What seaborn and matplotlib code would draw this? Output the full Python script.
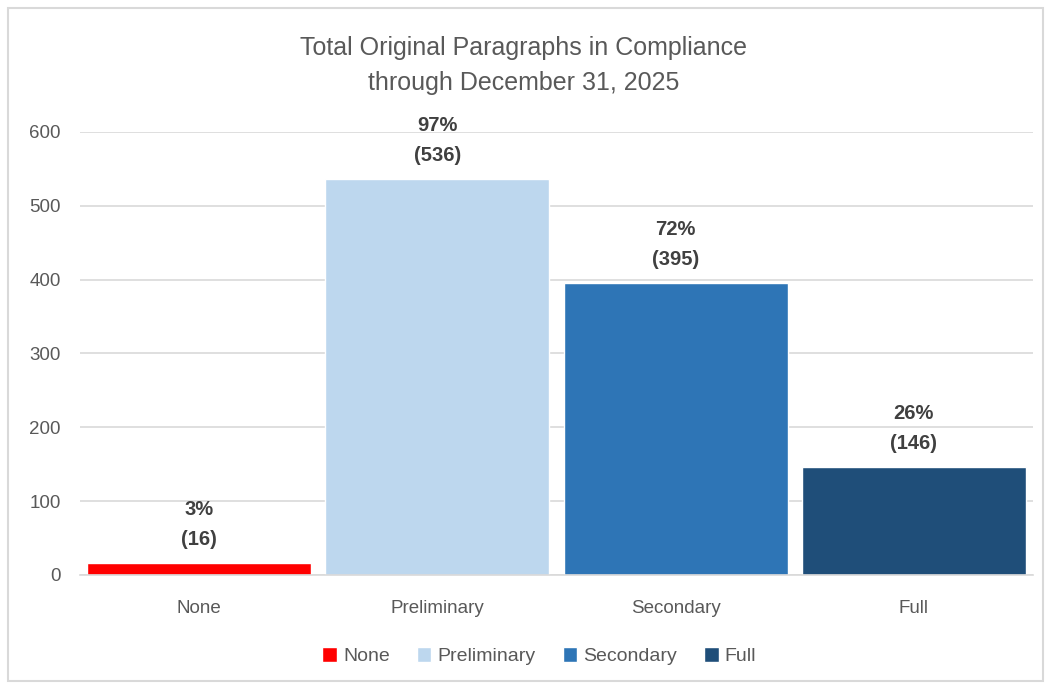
import pandas as pd
import matplotlib
matplotlib.use("Agg")
import matplotlib.pyplot as plt
from matplotlib.patches import Rectangle, Patch
import seaborn as sns

categories = ["None", "Preliminary", "Secondary", "Full"]
counts = [16, 536, 395, 146]
percents = [3, 97, 72, 26]
colors = ["#FF0000", "#BDD7EE", "#2E75B6", "#1F4E79"]
yticks = [0, 100, 200, 300, 400, 500, 600]

sns.set_theme(style="white")
plt.rcParams["font.family"] = ["Liberation Sans", "DejaVu Sans"]

df = pd.DataFrame({"level": categories, "count": counts})

fig = plt.figure(figsize=(10.47, 6.85), dpi=100)
ax = fig.add_axes([0.0764, 0.1606, 0.9102, 0.6467])

sns.barplot(data=df, x="level", y="count", hue="level", palette=colors,
            width=0.94, saturation=1, legend=False, ax=ax)

ax.set_ylim(0, 600)
ax.set_yticks(yticks)
ax.yaxis.grid(True, color="#D9D9D9", linewidth=1.2)
ax.set_axisbelow(True)
for s in ["top", "right", "left"]:
    ax.spines[s].set_visible(False)
ax.spines["bottom"].set_color("#D9D9D9")
ax.spines["bottom"].set_linewidth(1.2)
ax.tick_params(axis="both", length=0, labelsize=13.5, colors="#595959")
ax.tick_params(axis="x", pad=18)
ax.tick_params(axis="y", pad=14)
ax.set_xlabel("")
ax.set_ylabel("")

# percent + count labels above each bar
labels = [f"{p}%\n({c})" for p, c in zip(percents, counts)]
for cont, lab in zip(ax.containers, labels):
    ax.bar_label(cont, labels=[lab], padding=10, fontsize=14.5, fontweight="bold",
                 color="#404040", linespacing=1.75)

fig.suptitle("Total Original Paragraphs in Compliance\nthrough December 31, 2025",
             y=0.948, fontsize=18, color="#595959", linespacing=1.6)

handles = [Patch(facecolor=c, label=l) for c, l in zip(colors, categories)]
fig.legend(handles=handles, loc="center", bbox_to_anchor=(0.515, 0.042), ncol=4,
           frameon=False, fontsize=14, labelcolor="#595959", handlelength=0.75,
           handleheight=0.75, handletextpad=0.3, columnspacing=1.4)

fig.patches.append(Rectangle((0.008, 0.006), 0.988, 0.982, transform=fig.transFigure,
                             fill=False, edgecolor="#D9D9D9", linewidth=1.5))

fig.savefig("out.png", dpi=100)
